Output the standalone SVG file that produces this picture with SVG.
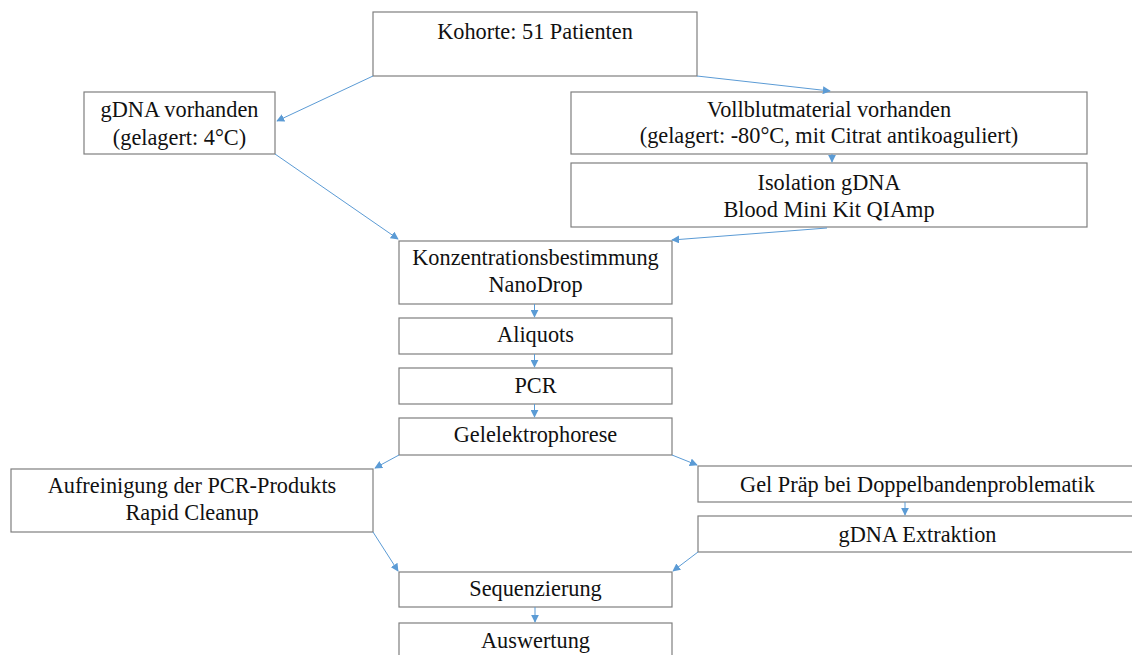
<svg xmlns="http://www.w3.org/2000/svg" width="1132" height="655" viewBox="0 0 1132 655">
<defs>
<style>
.box{fill:#ffffff;stroke:#7f7f7f;stroke-width:1.2}
.t{font-family:"Liberation Serif","Times New Roman",serif;font-size:22.3px;fill:#111;text-anchor:middle}
.c{stroke:#5b9bd5;stroke-width:1;fill:none;marker-end:url(#ah)}
</style>
<marker id="ah" viewBox="0 0 10 10" refX="9" refY="5" markerWidth="8" markerHeight="8" markerUnits="userSpaceOnUse" orient="auto">
<path d="M0,0 L10,5 L0,10 z" fill="#5b9bd5"/>
</marker>
</defs>
<rect width="1132" height="655" fill="#ffffff"/>
<g id="n-kohorte"><rect class="box" x="373" y="12" width="324" height="64"/><text class="t" x="535" y="39">Kohorte: 51 Patienten</text></g>
<g id="n-gdna"><rect class="box" x="84" y="92" width="191" height="62"/><text class="t" x="179.5" y="117">gDNA vorhanden</text><text class="t" x="179.5" y="145">(gelagert: 4°C)</text></g>
<g id="n-vollblut"><rect class="box" x="571" y="92" width="516" height="62"/><text class="t" x="829" y="117">Vollblutmaterial vorhanden</text><text class="t" x="829" y="143">(gelagert: -80°C, mit Citrat antikoaguliert)</text></g>
<g id="n-isolation"><rect class="box" x="571" y="163" width="516" height="64"/><text class="t" x="829" y="190">Isolation gDNA</text><text class="t" x="829" y="217">Blood Mini Kit QIAmp</text></g>
<g id="n-konz"><rect class="box" x="399" y="241" width="273" height="63"/><text class="t" x="535.5" y="265">Konzentrationsbestimmung</text><text class="t" x="535.5" y="292">NanoDrop</text></g>
<g id="n-aliquots"><rect class="box" x="399" y="318" width="273" height="36"/><text class="t" x="535.5" y="342">Aliquots</text></g>
<g id="n-pcr"><rect class="box" x="399" y="368" width="273" height="36"/><text class="t" x="535.5" y="393">PCR</text></g>
<g id="n-gel"><rect class="box" x="399" y="418" width="273" height="37"/><text class="t" x="535.5" y="442">Gelelektrophorese</text></g>
<g id="n-aufreinigung"><rect class="box" x="11" y="469" width="362" height="63"/><text class="t" x="192" y="493">Aufreinigung der PCR-Produkts</text><text class="t" x="192" y="520">Rapid Cleanup</text></g>
<g id="n-gelprep"><rect class="box" x="698" y="466" width="440" height="36"/><text class="t" x="917.5" y="492">Gel Präp bei Doppelbandenproblematik</text></g>
<g id="n-extraktion"><rect class="box" x="698" y="516" width="440" height="36"/><text class="t" x="917.5" y="542">gDNA Extraktion</text></g>
<g id="n-seq"><rect class="box" x="399" y="572" width="273" height="35"/><text class="t" x="535.5" y="596">Sequenzierung</text></g>
<g id="n-ausw"><rect class="box" x="399" y="623" width="273" height="40"/><text class="t" x="535.5" y="648">Auswertung</text></g>
<g id="connectors">
<line class="c" x1="373" y1="76" x2="277" y2="121"/>
<line class="c" x1="697" y1="76" x2="830" y2="91"/>
<line class="c" x1="275" y1="154" x2="398" y2="239"/>
<line class="c" x1="832" y1="154" x2="832" y2="162"/>
<line class="c" x1="827" y1="228" x2="672" y2="240"/>
<line class="c" x1="534.5" y1="304" x2="534.5" y2="317"/>
<line class="c" x1="534.5" y1="354" x2="534.5" y2="367"/>
<line class="c" x1="534.5" y1="404" x2="534.5" y2="417"/>
<line class="c" x1="399" y1="455" x2="375" y2="468"/>
<line class="c" x1="672" y1="455" x2="697" y2="465"/>
<line class="c" x1="905" y1="502" x2="905" y2="515"/>
<line class="c" x1="373" y1="532" x2="398" y2="571"/>
<line class="c" x1="698" y1="552" x2="673" y2="571"/>
<line class="c" x1="535" y1="607" x2="535" y2="622"/>
</g>
</svg>
